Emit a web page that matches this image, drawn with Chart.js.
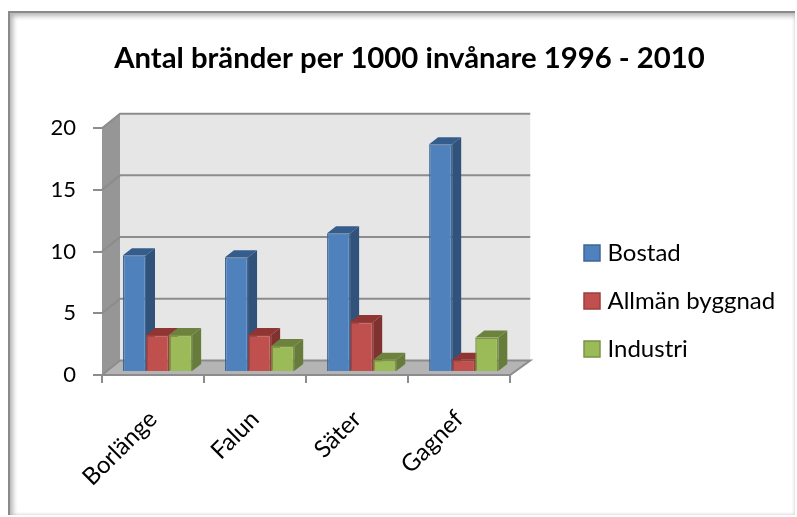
<!DOCTYPE html>
<html>
<head>
<meta charset="utf-8">
<style>
html, body { margin: 0; padding: 0; background: #fff; overflow: hidden; }
#frame {
    position: absolute; left: 8px; top: 11px; width: 787px; height: 504px; box-sizing: border-box;
    border-left: 2px solid #8a8a8a; border-top: 2px solid #8a8a8a;
    box-shadow: inset 4px 4px 5px -1px #b4b4b4, inset -2px -2px 3px -1px #dcdcdc;
}
#chart { position: absolute; left: 0; top: 0; }
</style>
</head>
<body>
<div id="frame"></div>
<canvas id="chart" width="797" height="517"></canvas>
<script src="https://cdn.jsdelivr.net/npm/chart.js@4"></script>
<script>
const categories = ['Borlänge', 'Falun', 'Säter', 'Gagnef'];
const bostad = [9.45, 9.3, 11.25, 18.45];
const allman = [3.0, 3.0, 4.05, 1.0];
const industri = [3.0, 2.1, 1.0, 2.8];
const seriesNames = ['Bostad', 'Allmän byggnad', 'Industri'];

const fontName = 'Lato';

// färger: front, kant, sida, topp
const blue = ['#4f81bd', '#3f6797', '#31527b', '#345d8c'];
const red = ['#c0504d', '#9b3f3c', '#7f3230', '#8f3634'];
const green = ['#9bbb59', '#7a9444', '#677c3b', '#6d833d'];
const sideColors = [blue, red, green];

function poly(ctx, pts, fill) {
    ctx.beginPath();
    pts.forEach((p, i) => i ? ctx.lineTo(p[0], p[1]) : ctx.moveTo(p[0], p[1]));
    ctx.closePath();
    ctx.fillStyle = fill;
    ctx.fill();
}

const box3d = {
    id: 'box3d',
    beforeDatasetsDraw(chart) {
        const ctx = chart.ctx;
        const { left, right, top, bottom } = chart.chartArea;
        const dx = 18, dy = -14.5, rx = 20;
        poly(ctx, [[left + dx, top + dy], [right + rx, top + dy], [right + rx, bottom + dy], [left + dx, bottom + dy]], '#e6e6e6');
        poly(ctx, [[left, top], [left + dx, top + dy], [left + dx, bottom + dy], [left, bottom]], '#969696');
        poly(ctx, [[left, bottom], [left + dx, bottom + dy], [right + rx, bottom + dy], [right, bottom]], '#b4b4b4');

        ctx.strokeStyle = '#8c8c8c';
        ctx.lineWidth = 2;
        chart.scales.y.ticks.forEach(t => {
            const y = chart.scales.y.getPixelForValue(t.value);
            ctx.beginPath();
            ctx.moveTo(left, y);
            ctx.lineTo(left + dx, y + dy);
            ctx.lineTo(right + rx, y + dy);
            if (t.value === 0) ctx.lineTo(right, y);
            ctx.stroke();
        });
        ctx.beginPath();
        ctx.moveTo(left, bottom);
        ctx.lineTo(right, bottom);
        ctx.stroke();

        // staplarna står en bit in på golvet
        ctx.save();
        ctx.translate(4.5, -3);

        // sidor och toppar först, fronterna ritas sedan av Chart.js ovanpå
        const bx = 9, by = -7;
        chart.data.datasets.forEach((ds, i) => {
            const c = sideColors[i];
            chart.getDatasetMeta(i).data.forEach(el => {
                const l = el.x - el.width / 2, r = el.x + el.width / 2;
                poly(ctx, [[l, el.y], [l + bx, el.y + by], [r + bx, el.y + by], [r, el.y]], c[3]);
                poly(ctx, [[r, el.y], [r + bx, el.y + by], [r + bx, el.base + by], [r, el.base]], c[2]);
            });
        });
    },
    afterDatasetsDraw(chart) {
        chart.ctx.restore();
    },
    beforeDraw(chart) {
        // förklaring och titel placeras oberoende av diagramytan
        chart.legend.left = 564.5;
        chart.legend.right = 797;
        chart.legend.top = 65;
        chart.legend.bottom = 537;
        chart.titleBlock.left = 22;
        chart.titleBlock.right = 797;
    }
};

new Chart(document.getElementById('chart'), {
    type: 'bar',
    data: {
        labels: categories,
        datasets: [
            { label: seriesNames[0], data: bostad, backgroundColor: blue[0], borderColor: blue[1], borderWidth: 1.5, clip: false },
            { label: seriesNames[1], data: allman, backgroundColor: red[0], borderColor: red[1], borderWidth: 1.5, clip: false },
            { label: seriesNames[2], data: industri, backgroundColor: green[0], borderColor: green[1], borderWidth: 1.5, clip: false },
        ]
    },
    options: {
        responsive: false,
        animation: false,
        layout: { padding: { left: 22, right: 124, top: 0, bottom: 20 } },
        plugins: {
            title: {
                display: true,
                text: 'Antal bränder per 1000 invånare 1996 - 2010',
                color: '#000',
                font: { family: fontName, size: 29.3, weight: 'bold' },
                padding: { top: 41, bottom: 52 }
            },
            legend: {
                position: 'right',
                labels: {
                    color: '#000',
                    font: { family: fontName, size: 24 },
                    usePointStyle: true,
                    pointStyle: 'rect',
                    boxWidth: 7,
                    boxHeight: 16,
                    padding: 24
                }
            },
            tooltip: { enabled: false }
        },
        scales: {
            x: {
                offset: true,
                afterFit(scale) { scale.height = 122; },
                grid: { offset: true, color: 'transparent', tickColor: '#8c8c8c', tickLength: 8, lineWidth: 2 },
                border: { display: false },
                ticks: { color: '#000', font: { family: fontName, size: 24 }, minRotation: 45, maxRotation: 45, padding: 22 }
            },
            y: {
                min: 0,
                max: 20,
                afterFit(scale) { scale.width = 80; },
                grid: { color: 'transparent', tickColor: '#8c8c8c', tickLength: 9, lineWidth: 2 },
                border: { display: false },
                ticks: { stepSize: 5, color: '#000', font: { family: fontName, size: 22 }, padding: 17 }
            }
        },
        datasets: { bar: { categoryPercentage: 0.678, barPercentage: 1 } }
    },
    plugins: [box3d]
});
</script>
</body>
</html>
